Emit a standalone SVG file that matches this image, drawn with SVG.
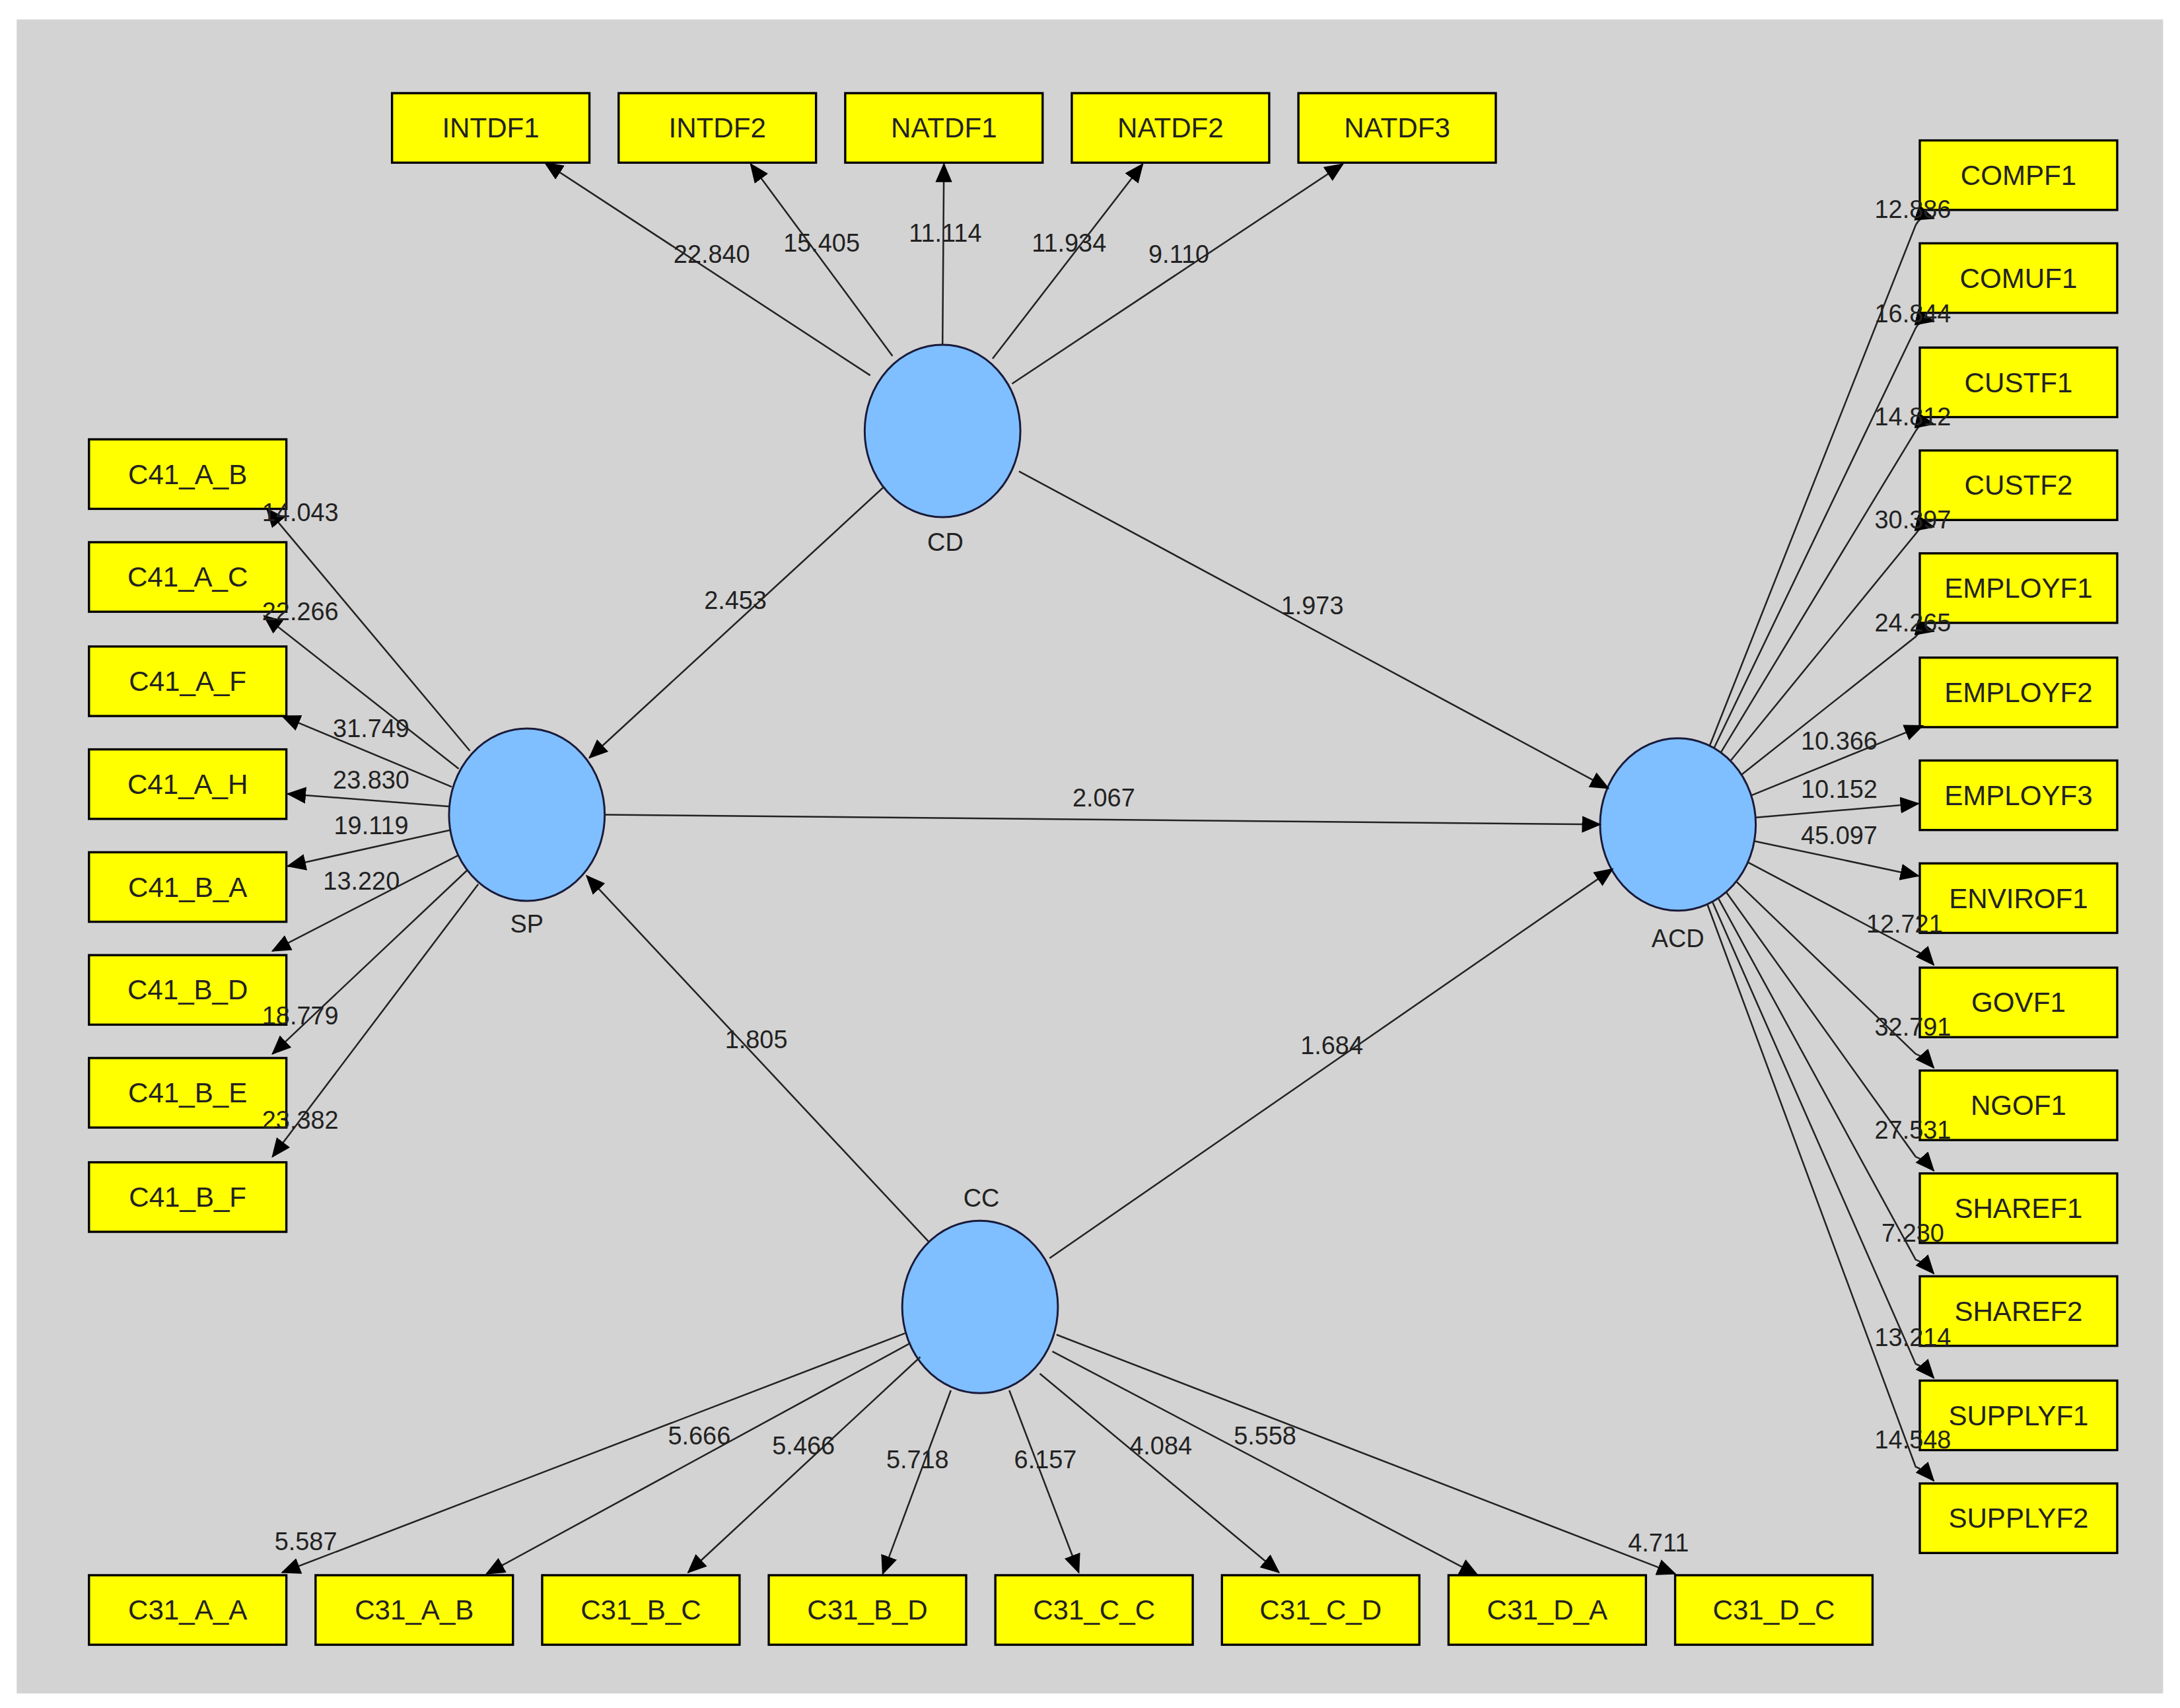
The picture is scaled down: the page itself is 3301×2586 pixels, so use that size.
<svg xmlns="http://www.w3.org/2000/svg" width="3301" height="2586" viewBox="0 0 3301 2586">
<style>
.b{fill:#ffff00;stroke:#000;stroke-width:1.6}
.e{fill:#7fbfff;stroke:#1a1a3a;stroke-width:1.4}
.t{font-family:"Liberation Sans",Arial,sans-serif;font-size:20px;fill:#222;text-anchor:middle}
.l{font-family:"Liberation Sans",Arial,sans-serif;font-size:18px;fill:#222;text-anchor:middle}
#conn path{fill:none;stroke:#222;stroke-width:1.2;marker-end:url(#a)}
</style>
<defs><marker id="a" markerUnits="userSpaceOnUse" markerWidth="14" markerHeight="14" viewBox="0 0 14 14" refX="13" refY="7" orient="auto"><path d="M0,1 L14,7 L0,13 Z" fill="#000"/></marker></defs>
<rect width="3301" height="2586" fill="#fff"/>
<g transform="scale(2.105)">
<rect x="12" y="14" width="1544" height="1204" fill="#d3d3d3"/>
<g id="CD"><ellipse class="e" cx="678" cy="310" rx="56" ry="62"/><text class="l" x="680" y="396">CD</text></g>
<g id="SP"><ellipse class="e" cx="379" cy="586" rx="56" ry="62"/><text class="l" x="379" y="671">SP</text></g>
<g id="ACD"><ellipse class="e" cx="1207" cy="593" rx="56" ry="62"/><text class="l" x="1207" y="681">ACD</text></g>
<g id="CC"><ellipse class="e" cx="705" cy="940" rx="56" ry="62"/><text class="l" x="706" y="868">CC</text></g>
<g id="INTDF1"><rect class="b" x="282" y="67" width="142" height="50"/><text class="t" x="353" y="99">INTDF1</text></g>
<g id="INTDF2"><rect class="b" x="445" y="67" width="142" height="50"/><text class="t" x="516" y="99">INTDF2</text></g>
<g id="NATDF1"><rect class="b" x="608" y="67" width="142" height="50"/><text class="t" x="679" y="99">NATDF1</text></g>
<g id="NATDF2"><rect class="b" x="771" y="67" width="142" height="50"/><text class="t" x="842" y="99">NATDF2</text></g>
<g id="NATDF3"><rect class="b" x="934" y="67" width="142" height="50"/><text class="t" x="1005" y="99">NATDF3</text></g>
<g id="C41_A_B"><rect class="b" x="64" y="316" width="142" height="50"/><text class="t" x="135" y="348">C41_A_B</text></g>
<g id="C41_A_C"><rect class="b" x="64" y="390" width="142" height="50"/><text class="t" x="135" y="422">C41_A_C</text></g>
<g id="C41_A_F"><rect class="b" x="64" y="465" width="142" height="50"/><text class="t" x="135" y="497">C41_A_F</text></g>
<g id="C41_A_H"><rect class="b" x="64" y="539" width="142" height="50"/><text class="t" x="135" y="571">C41_A_H</text></g>
<g id="C41_B_A"><rect class="b" x="64" y="613" width="142" height="50"/><text class="t" x="135" y="645">C41_B_A</text></g>
<g id="C41_B_D"><rect class="b" x="64" y="687" width="142" height="50"/><text class="t" x="135" y="719">C41_B_D</text></g>
<g id="C41_B_E"><rect class="b" x="64" y="761" width="142" height="50"/><text class="t" x="135" y="793">C41_B_E</text></g>
<g id="C41_B_F"><rect class="b" x="64" y="836" width="142" height="50"/><text class="t" x="135" y="868">C41_B_F</text></g>
<g id="C31_A_A"><rect class="b" x="64" y="1133" width="142" height="50"/><text class="t" x="135" y="1165">C31_A_A</text></g>
<g id="C31_A_B"><rect class="b" x="227" y="1133" width="142" height="50"/><text class="t" x="298" y="1165">C31_A_B</text></g>
<g id="C31_B_C"><rect class="b" x="390" y="1133" width="142" height="50"/><text class="t" x="461" y="1165">C31_B_C</text></g>
<g id="C31_B_D"><rect class="b" x="553" y="1133" width="142" height="50"/><text class="t" x="624" y="1165">C31_B_D</text></g>
<g id="C31_C_C"><rect class="b" x="716" y="1133" width="142" height="50"/><text class="t" x="787" y="1165">C31_C_C</text></g>
<g id="C31_C_D"><rect class="b" x="879" y="1133" width="142" height="50"/><text class="t" x="950" y="1165">C31_C_D</text></g>
<g id="C31_D_A"><rect class="b" x="1042" y="1133" width="142" height="50"/><text class="t" x="1113" y="1165">C31_D_A</text></g>
<g id="C31_D_C"><rect class="b" x="1205" y="1133" width="142" height="50"/><text class="t" x="1276" y="1165">C31_D_C</text></g>
<g id="COMPF1"><rect class="b" x="1381" y="101" width="142" height="50"/><text class="t" x="1452" y="133">COMPF1</text></g>
<g id="COMUF1"><rect class="b" x="1381" y="175" width="142" height="50"/><text class="t" x="1452" y="207">COMUF1</text></g>
<g id="CUSTF1"><rect class="b" x="1381" y="250" width="142" height="50"/><text class="t" x="1452" y="282">CUSTF1</text></g>
<g id="CUSTF2"><rect class="b" x="1381" y="324" width="142" height="50"/><text class="t" x="1452" y="356">CUSTF2</text></g>
<g id="EMPLOYF1"><rect class="b" x="1381" y="398" width="142" height="50"/><text class="t" x="1452" y="430">EMPLOYF1</text></g>
<g id="EMPLOYF2"><rect class="b" x="1381" y="473" width="142" height="50"/><text class="t" x="1452" y="505">EMPLOYF2</text></g>
<g id="EMPLOYF3"><rect class="b" x="1381" y="547" width="142" height="50"/><text class="t" x="1452" y="579">EMPLOYF3</text></g>
<g id="ENVIROF1"><rect class="b" x="1381" y="621" width="142" height="50"/><text class="t" x="1452" y="653">ENVIROF1</text></g>
<g id="GOVF1"><rect class="b" x="1381" y="696" width="142" height="50"/><text class="t" x="1452" y="728">GOVF1</text></g>
<g id="NGOF1"><rect class="b" x="1381" y="770" width="142" height="50"/><text class="t" x="1452" y="802">NGOF1</text></g>
<g id="SHAREF1"><rect class="b" x="1381" y="844" width="142" height="50"/><text class="t" x="1452" y="876">SHAREF1</text></g>
<g id="SHAREF2"><rect class="b" x="1381" y="918" width="142" height="50"/><text class="t" x="1452" y="950">SHAREF2</text></g>
<g id="SUPPLYF1"><rect class="b" x="1381" y="993" width="142" height="50"/><text class="t" x="1452" y="1025">SUPPLYF1</text></g>
<g id="SUPPLYF2"><rect class="b" x="1381" y="1067" width="142" height="50"/><text class="t" x="1452" y="1099">SUPPLYF2</text></g>
<g id="conn">
<path d="M626,270 L392,117"/><path d="M642,256 L540,118"/><path d="M678,248 L679,118"/><path d="M714,258 L822,118"/><path d="M728,276 L966,118"/>
<path d="M636,350 L424,545"/><path d="M733,339 L1157,567"/><path d="M435,586 L1151,593"/><path d="M668,893 L422,630"/><path d="M755,905 L1160,625"/>
<path d="M338,540 L192,366"/><path d="M330,553 L190,443"/><path d="M325,566 L203,515"/><path d="M323,580 L207,571"/><path d="M324,597 L207,623"/><path d="M330,615 L196,684"/><path d="M336,626 L196,758"/><path d="M344,636 L196,832"/>
<path d="M651,959 L203,1131"/><path d="M655,966 L350,1132"/><path d="M662,976 L495,1131"/><path d="M684,1000 L635,1132"/><path d="M726,1000 L776,1131"/><path d="M748,988 L920,1131"/><path d="M757,972 L1063,1133"/><path d="M760,960 L1205,1132"/>
<path d="M1230,536 L1378,162 Q1382,154 1391,157"/>
<path d="M1233,538 L1378,236 Q1382,229 1391,231"/>
<path d="M1238,541 L1378,310 Q1382,303 1391,305"/>
<path d="M1245,547 L1378,384 Q1382,377 1391,379"/>
<path d="M1253,557 L1378,458 Q1382,452 1391,454"/>
<path d="M1260,572 L1383,522"/>
<path d="M1263,588 L1380,578"/>
<path d="M1262,605 L1380,630"/>
<path d="M1257,620 L1378,684 Q1384,686 1391,694"/>
<path d="M1249,634 L1378,758 Q1384,760 1391,768"/>
<path d="M1242,642 L1378,832 Q1384,834 1391,842"/>
<path d="M1236,646 L1378,906 Q1384,908 1391,916"/>
<path d="M1232,649 L1378,981 Q1384,983 1391,991"/>
<path d="M1228,650 L1378,1055 Q1384,1057 1391,1065"/>
</g>
<g class="l">
<text x="512" y="189">22.840</text><text x="591" y="181">15.405</text><text x="680" y="174">11.114</text><text x="769" y="181">11.934</text><text x="848" y="189">9.110</text>
<text x="529" y="438">2.453</text><text x="944" y="442">1.973</text><text x="794" y="580">2.067</text><text x="544" y="754">1.805</text><text x="958" y="758">1.684</text>
<text x="216" y="375">14.043</text><text x="216" y="446">22.266</text><text x="267" y="530">31.749</text><text x="267" y="567">23.830</text><text x="267" y="600">19.119</text><text x="260" y="640">13.220</text><text x="216" y="737">18.779</text><text x="216" y="812">23.382</text>
<text x="220" y="1115">5.587</text><text x="503" y="1039">5.666</text><text x="578" y="1046">5.466</text><text x="660" y="1056">5.718</text><text x="752" y="1056">6.157</text><text x="835" y="1046">4.084</text><text x="910" y="1039">5.558</text><text x="1193" y="1116">4.711</text>
<text x="1376" y="157">12.886</text><text x="1376" y="232">16.844</text><text x="1376" y="306">14.812</text><text x="1376" y="380">30.397</text><text x="1376" y="454">24.265</text><text x="1323" y="539">10.366</text><text x="1323" y="574">10.152</text><text x="1323" y="607">45.097</text><text x="1370" y="671">12.721</text><text x="1376" y="745">32.791</text><text x="1376" y="819">27.531</text><text x="1376" y="893">7.230</text><text x="1376" y="968">13.214</text><text x="1376" y="1042">14.548</text>
</g>
</g>
</svg>
